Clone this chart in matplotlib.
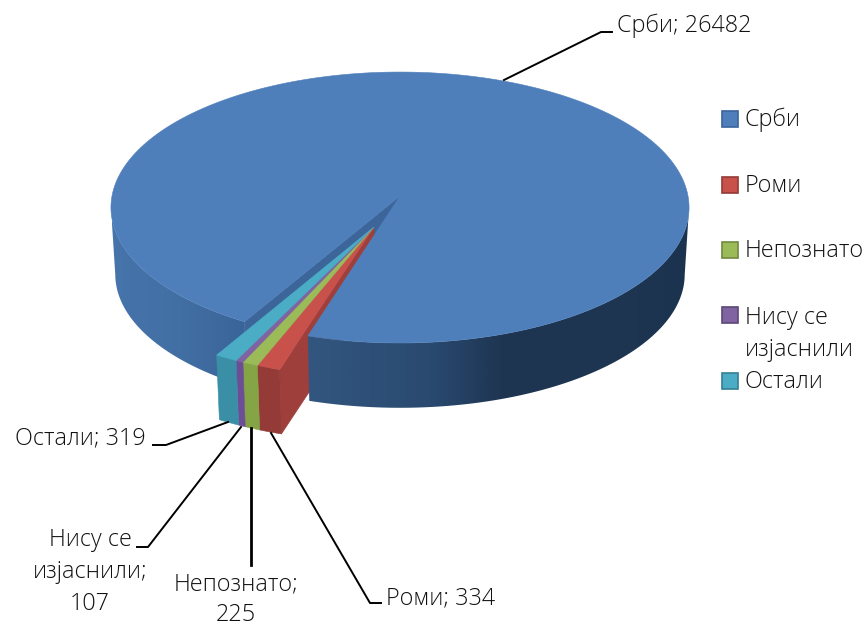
import numpy as np
import matplotlib
matplotlib.use("Agg")
import matplotlib.pyplot as plt
from matplotlib.colors import LinearSegmentedColormap
from matplotlib.patches import Polygon, Rectangle

categories = ["Срби", "Роми", "Непознато", "Нису се\nизјаснили", "Остали"]
values = [26482, 334, 225, 107, 319]
top_colors = ["#4f7fba", "#c9514c", "#9bbb59", "#8064a2", "#4bacc6"]
wall_colors = ["#30537c", "#943a37", "#84a445", "#6d4e96", "#3a8fa6"]
legend_edges = ["#3a659b", "#943a37", "#71893f", "#5c4776", "#357f94"]

plt.rcParams["font.family"] = ["Open Sans", "DejaVu Sans"]
FS = 16.8
TXT = "#111111"
FW = "light"
LS = 1.45

fig = plt.figure(figsize=(8.68, 6.27), dpi=100)
ax = fig.add_axes([0, 0, 1, 1])
ax.axis("off")

# camera model of the pie disc
X0, Y0, A, B, K = 400.0, 196.0, 288.0, 134.5, 0.085
H, S = 67.0, 0.985
START = 210.0
SHIFT_U, SHIFT_V = -0.0885, 0.226
SLICE_R = 0.98


def top_pt(theta, r=1.0, du=0.0, dv=0.0):
    t = np.radians(theta)
    u = r * np.sin(t) + du
    v = -r * np.cos(t) + dv
    d = 1 - K * v
    return np.column_stack([X0 + A * u / d, Y0 + B * v / d])


def bottom(p):
    return np.column_stack([X0 + S * (p[:, 0] - X0), Y0 + H + S * (p[:, 1] - Y0)])


def poly(pts, color, z):
    p = Polygon(pts, closed=True, facecolor=color, edgecolor=color, linewidth=0.4, zorder=z)
    ax.add_patch(p)
    return p


wall_x = [112, 180, 240, 310, 430, 500, 640, 690]
wall_c = ["#4674ab", "#426fa3", "#3a659a", "#32567f", "#2a4a70", "#1f3653", "#1e3552", "#1c3350"]
wall_cmap = LinearSegmentedColormap.from_list(
    "wall", [((x - 112) / (690 - 112), c) for x, c in zip(wall_x, wall_c)])
ramp = np.linspace(0, 1, 600).reshape(1, -1)


def shaded_wall(a, b, z):
    th = np.linspace(a, b, 200)
    t = top_pt(th)
    outline = np.vstack([t, bottom(t)[::-1]])
    clip = Polygon(outline, closed=True, transform=ax.transData, facecolor="none", edgecolor="none")
    ax.add_patch(clip)
    im = ax.imshow(ramp, cmap=wall_cmap, extent=(112, 690, 470, 60), aspect="auto",
                   interpolation="bilinear", zorder=z)
    im.set_clip_path(clip)


total = sum(values)
sweeps = [v / total * 360 for v in values]
edges = START + np.cumsum([0] + sweeps)
srbi_end = edges[1]
right_end = srbi_end - 360

# Srbi: left outer wall and the inner cut wall
shaded_wall(START, 265, 1)
apex = np.array([[X0, Y0]])
rim = top_pt(np.array([START]))
poly(np.vstack([apex, rim, bottom(rim), bottom(apex)]), "#3c659a", 2)

# pulled-out small slices move together
sl_apex = top_pt(np.array([0.0]), r=0.0, du=SHIFT_U, dv=SHIFT_V)

first = top_pt(np.array([right_end]), r=SLICE_R, du=SHIFT_U, dv=SHIFT_V)
poly(np.vstack([sl_apex, first, bottom(first), bottom(sl_apex)]), "#9e3f3b", 3)

for i in range(1, 5):
    a, b = edges[i] - 360, edges[i + 1] - 360
    th = np.linspace(a, b, 30)
    arc = top_pt(th, r=SLICE_R, du=SHIFT_U, dv=SHIFT_V)
    poly(np.vstack([arc, bottom(arc)[::-1]]), wall_colors[i], 4)
    poly(np.vstack([sl_apex, arc]), top_colors[i], 5)

# Srbi: right outer wall and top
shaded_wall(95, right_end, 6)
th = np.linspace(START, srbi_end, 720)
poly(np.vstack([apex, top_pt(th)]), top_colors[0], 7)

# data labels with leader lines
tk = dict(fontsize=FS, color=TXT, fontweight=FW, linespacing=LS)
label_text = [f"{c.replace(chr(10), ' ')}; {v}" for c, v in zip(categories, values)]
ax.text(617, 25.5, label_text[0], ha="left", va="center", **tk)
ax.plot([504, 601, 612], [80, 32, 32], color="black", lw=1.4, zorder=8)

ax.text(386, 598, label_text[1], ha="left", va="center", **tk)
ax.plot([271, 370, 381], [433, 603, 603], color="black", lw=1.4, zorder=8)

ax.text(236, 600, f"{categories[2]};\n{values[2]}", ha="center", va="center",
        multialignment="center", fontsize=FS, color=TXT, fontweight=FW, linespacing=1.36)
ax.plot([251, 251], [428, 565], color="black", lw=2.0, zorder=8)

ax.text(90, 572, f"{categories[3]};\n{values[3]}", ha="center", va="center",
        multialignment="center", **tk)
ax.plot([241, 148, 137], [427, 547, 547], color="black", lw=1.4, zorder=8)

ax.text(15, 438, label_text[4], ha="left", va="center", **tk)
ax.plot([228, 166, 153], [422, 445, 445], color="black", lw=1.4, zorder=8)

# legend
legend_y = [119, 185, 250, 315, 381]
for name, y, fc, ec in zip(categories, legend_y, top_colors, legend_edges):
    ax.add_patch(Rectangle((722, y - 8), 16, 16, facecolor=fc, edgecolor=ec, linewidth=1.2, zorder=8))
    if "\n" in name:
        ax.text(745, y - 9, name, ha="left", va="top", **tk)
    else:
        ax.text(745, y + 1, name, ha="left", va="center", **tk)

ax.set_xlim(0, 868)
ax.set_ylim(627, 0)
fig.savefig("out.png", dpi=100, facecolor="white")
